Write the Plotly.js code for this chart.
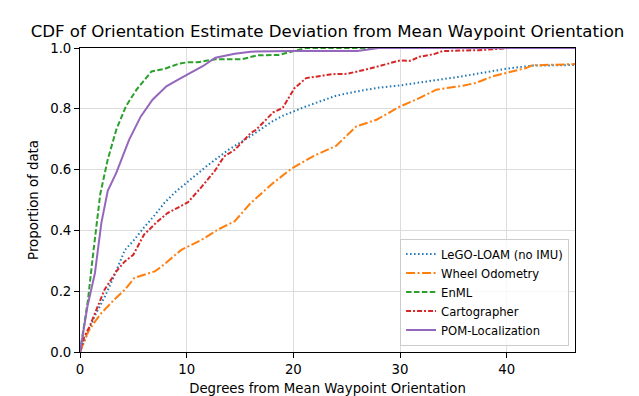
<!DOCTYPE html>
<html>
<head>
<meta charset="utf-8">
<script src="https://cdn.plot.ly/plotly-3.0.1.min.js"></script>
<style>html,body{margin:0;padding:0;background:#fff}#chart{width:639px;height:396px}</style>
</head>
<body>
<div id="chart"></div>
<script>
// Series names
const seriesNames = ["LeGO-LOAM (no IMU)", "Wheel Odometry", "EnML", "Cartographer", "POM-Localization"];

// LeGO-LOAM (no IMU)
const legoX = [0, 0.4, 1.4, 2.3, 3.2, 4.2, 5.1, 6.0, 7.0, 7.9, 8.9, 10.1, 12.0, 13.9, 16.0, 18.1, 19.0, 21.2, 23.1, 24.0, 25.9, 28.1, 30.0, 31.8, 33.5, 35.5, 38.0, 40.0, 42.4, 46.4];
const legoY = [0, 0.035, 0.12, 0.18, 0.25, 0.335, 0.37, 0.41, 0.45, 0.49, 0.525, 0.56, 0.615, 0.665, 0.71, 0.76, 0.777, 0.808, 0.83, 0.843, 0.857, 0.87, 0.877, 0.887, 0.895, 0.905, 0.92, 0.932, 0.942, 0.944];

// Wheel Odometry
const wheelX = [0, 0.7, 1.4, 2.0, 3.2, 4.2, 5.1, 5.7, 7.0, 7.6, 8.9, 9.5, 11.4, 12.9, 14.5, 16.0, 18.1, 19.9, 21.8, 24.0, 25.9, 27.8, 29.9, 31.8, 33.4, 35.9, 37.1, 38.7, 40.3, 41.8, 42.4, 46.4];
const wheelY = [0, 0.063, 0.10, 0.128, 0.172, 0.205, 0.244, 0.251, 0.265, 0.28, 0.32, 0.336, 0.369, 0.402, 0.43, 0.49, 0.556, 0.605, 0.643, 0.678, 0.742, 0.764, 0.806, 0.835, 0.863, 0.876, 0.885, 0.907, 0.921, 0.934, 0.943, 0.947];

// EnML
const enmlX = [0, 0.4, 0.75, 1.2, 1.7, 1.9, 2.6, 3.4, 4.3, 5.3, 6.7, 7.9, 9.3, 10.1, 11.0, 12.7, 15.2, 16.6, 18.6, 19.9, 21.2, 46.4];
const enmlY = [0, 0.095, 0.172, 0.314, 0.468, 0.52, 0.633, 0.731, 0.808, 0.863, 0.923, 0.931, 0.949, 0.953, 0.953, 0.963, 0.963, 0.976, 0.977, 0.988, 1.0, 1.0];

// Cartographer
const cartoX = [0, 0.4, 0.9, 1.4, 1.8, 2.3, 2.8, 3.4, 4.2, 5.0, 6.0, 7.1, 8.2, 9.2, 10.1, 11.2, 12.6, 13.5, 14.5, 16.0, 16.5, 18.1, 19.0, 20.1, 21.2, 23.7, 25.0, 26.8, 28.4, 30.0, 31.0, 31.8, 33.2, 34.0, 37.4, 40.3, 46.4];
const cartoY = [0, 0.05, 0.084, 0.128, 0.161, 0.205, 0.232, 0.265, 0.298, 0.32, 0.386, 0.424, 0.457, 0.474, 0.492, 0.535, 0.594, 0.643, 0.665, 0.72, 0.731, 0.788, 0.803, 0.868, 0.901, 0.914, 0.915, 0.929, 0.943, 0.959, 0.958, 0.971, 0.98, 0.99, 0.993, 1.0, 1.0];

// POM-Localization
const pomX = [0, 0.3, 0.7, 1.4, 2.0, 2.6, 3.4, 4.6, 5.7, 6.8, 8.1, 9.2, 10.5, 11.5, 12.7, 14.5, 16.0, 20.0, 26.0, 28.0, 46.4];
const pomY = [0, 0.06, 0.15, 0.26, 0.424, 0.53, 0.589, 0.698, 0.775, 0.83, 0.874, 0.896, 0.92, 0.94, 0.968, 0.981, 0.988, 0.99, 0.99, 1.0, 1.0];

// Axis ticks
const xTicks = [0, 10, 20, 30, 40];
const yTicks = [0, 0.2, 0.4, 0.6, 0.8, 1.0];
const yTickLabels = ["0.0", "0.2", "0.4", "0.6", "0.8", "1.0"];

const colors = ["#1f77b4", "#ff7f0e", "#2ca02c", "#d62728", "#9467bd"];
const dashes = ["1.5px,2.5px", "9px,2.5px,2px,2.5px", "5.5px,2.4px", "5px,2px,2px,2px", "solid"];
const xs = [legoX, wheelX, enmlX, cartoX, pomX];
const ys = [legoY, wheelY, enmlY, cartoY, pomY];

const traces = seriesNames.map((n, i) => ({
  x: xs[i], y: ys[i], name: n, type: "scatter", mode: "lines",
  line: {color: colors[i], width: 2, dash: dashes[i]}
}));

const font = "DejaVu Sans, sans-serif";
const layout = {
  width: 639, height: 396,
  margin: {l: 80, r: 64, t: 48, b: 44},
  paper_bgcolor: "#fff", plot_bgcolor: "#fff",
  font: {family: font, size: 13, color: "#000"},
  title: {text: "CDF of Orientation Estimate Deviation from Mean Waypoint Orientation",
          font: {family: font, size: 16.6, color: "#000"},
          x: 0.5, xref: "paper", y: 1, yref: "paper", yanchor: "bottom", pad: {b: 11}},
  xaxis: {range: [0, 46.4], tickvals: xTicks, ticks: "outside", ticklen: 5, tickcolor: "#000",
          showline: true, mirror: true, linecolor: "#000", linewidth: 1,
          showgrid: true, gridcolor: "#dcdcdc", gridwidth: 1, zeroline: false,
          tickfont: {family: font, size: 13.3},
          title: {text: "Degrees from Mean Waypoint Orientation", font: {family: font, size: 13.3}, standoff: 8}},
  yaxis: {range: [0, 1], tickvals: yTicks, ticktext: yTickLabels, ticks: "outside", ticklen: 5, tickcolor: "#000",
          showline: true, mirror: true, linecolor: "#000", linewidth: 1,
          showgrid: true, gridcolor: "#dcdcdc", gridwidth: 1, zeroline: false,
          tickfont: {family: font, size: 13.3},
          title: {text: "Proportion of data", font: {family: font, size: 13.3}, standoff: 8}},
  legend: {x: 0.988, xanchor: "right", y: 0.021, yanchor: "bottom",
           bgcolor: "rgba(255,255,255,0.8)", bordercolor: "#cccccc", borderwidth: 1,
           font: {family: font, size: 11.6}, tracegroupgap: 0},
  showlegend: true
};

Plotly.newPlot("chart", traces, layout, {staticPlot: true, displayModeBar: false});
</script>
</body>
</html>
